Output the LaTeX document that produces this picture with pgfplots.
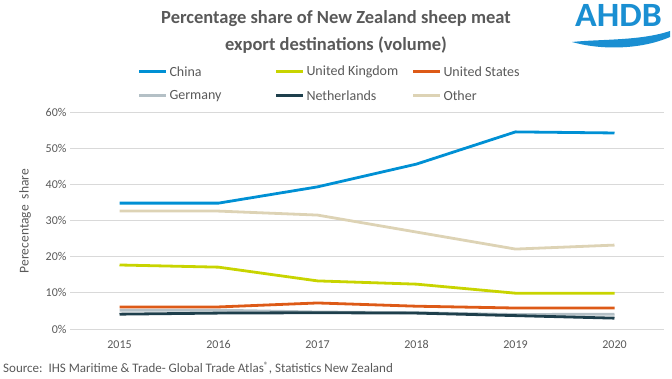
\documentclass[border=0pt]{standalone}
\usepackage{pgfplots}
\pgfplotsset{compat=1.18}
\usepackage{fontspec}
\setmainfont{Carlito}
\definecolor{cChina}{HTML}{0090D4}
\definecolor{cUK}{HTML}{C8D400}
\definecolor{cUS}{HTML}{DD5A17}
\definecolor{cDE}{HTML}{B4C0C6}
\definecolor{cNL}{HTML}{1E3F4C}
\definecolor{cOther}{HTML}{DDD3B5}
\definecolor{txt}{HTML}{595959}
\definecolor{gridc}{HTML}{D9D9D9}
\definecolor{logo}{HTML}{1A8FD2}
\begin{document}
\begin{tikzpicture}
\useasboundingbox (0pt,0pt) rectangle (672pt,378pt);
\begin{axis}[
  at={(70pt,49pt)}, anchor=south west,
  scale only axis, width=594pt, height=217pt,
  xmin=2014.5, xmax=2020.5, ymin=0, ymax=60,
  xtick={2015,2016,2017,2018,2019,2020},
  ytick={0,10,20,30,40,50,60},
  x tick label style={/pgf/number format/1000 sep={}, yshift=-8pt},
  yticklabel={\pgfmathprintnumber{\tick}\%},
  /pgf/number format/assume math mode=true,
  tick label style={font=\fontsize{12}{14}\selectfont, text=txt},
  axis line style={draw=none},
  tick style={draw=none},
  ymajorgrids, grid style={color=gridc, line width=0.8pt},
  clip=false,
  every axis plot/.append style={line width=2.8pt, mark=none, line join=round},
]
\addplot[cDE] coordinates {(2015,5.2) (2016,5.2) (2017,4.7) (2018,4.5) (2019,4.0) (2020,4.1)};
\addplot[cNL] coordinates {(2015,4.1) (2016,4.4) (2017,4.5) (2018,4.4) (2019,3.7) (2020,3.0)};
\addplot[cUS] coordinates {(2015,6.1) (2016,6.1) (2017,7.2) (2018,6.3) (2019,5.8) (2020,5.8)};
\addplot[cUK] coordinates {(2015,17.7) (2016,17.1) (2017,13.3) (2018,12.4) (2019,9.9) (2020,9.9)};
\addplot[cOther] coordinates {(2015,32.6) (2016,32.6) (2017,31.5) (2018,26.8) (2019,22.1) (2020,23.2)};
\addplot[cChina] coordinates {(2015,34.8) (2016,34.8) (2017,39.3) (2018,45.6) (2019,54.5) (2020,54.2)};
\end{axis}
% title
\node[font=\fontsize{18.5}{22}\selectfont\bfseries, text=txt, align=center] at (336pt,346pt) {Percentage share of New Zealand sheep meat\\[5pt]export destinations (volume)};
% legend
\begin{scope}[font=\fontsize{14}{16}\selectfont, text=txt, line width=3pt]
\draw[cChina] (139pt,306pt) -- (166pt,306pt); \node[anchor=west, inner sep=1pt] at (167pt,306pt) {China};
\draw[cUK] (276pt,306pt) -- (303pt,306pt); \node[anchor=west, inner sep=1pt] at (304pt,306pt) {United Kingdom};
\draw[cUS] (413pt,306pt) -- (440pt,306pt); \node[anchor=west, inner sep=1pt] at (441pt,306pt) {United States};
\draw[cDE] (139pt,282pt) -- (166pt,282pt); \node[anchor=west, inner sep=1pt] at (167pt,282pt) {Germany};
\draw[cNL] (276pt,282pt) -- (303pt,282pt); \node[anchor=west, inner sep=1pt] at (304pt,282pt) {Netherlands};
\draw[cOther] (413pt,282pt) -- (440pt,282pt); \node[anchor=west, inner sep=1pt] at (441pt,282pt) {Other};
\end{scope}
% y label
\node[rotate=90, font=\fontsize{13.5}{15}\selectfont, text=txt] at (25pt,157pt) {Perecentage\ \ share};
% source
\node[anchor=west, font=\fontsize{13}{15}\selectfont, text=txt, inner sep=0pt] at (3pt,10pt) {Source:\ \ IHS Maritime \& Trade- Global Trade Atlas\textsuperscript{®}, Statistics New Zealand};
% logo
\node[anchor=base east, inner sep=0pt, text=logo, font=\fontsize{34}{34}\selectfont\bfseries] at (662pt,351pt) {\scalebox{1.05}[1]{AHDB}};
\fill[logo] (572pt,336pt) .. controls (600pt,339pt) and (640pt,337pt) .. (670pt,347pt) -- (670pt,341pt) .. controls (640pt,328pt) and (600pt,328pt) .. (572pt,336pt) -- cycle;
\end{tikzpicture}
\end{document}
